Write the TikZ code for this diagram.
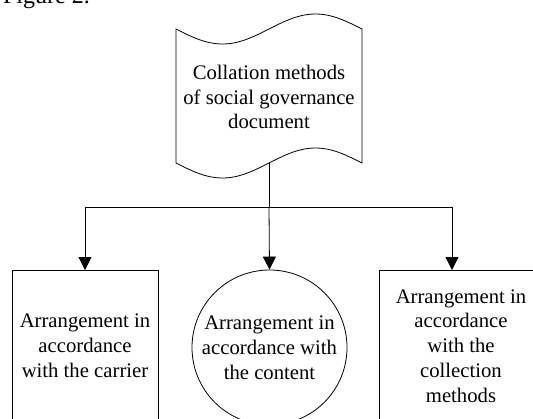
\documentclass[tikz,border=0pt]{standalone}
\usepackage{fontspec}
\setmainfont{Liberation Serif}
\usetikzlibrary{arrows.meta,calc}
\begin{document}
\begin{tikzpicture}[x=1pt,y=-1pt,
  line/.style={draw=black,line width=0.8pt},
  arr/.style={line,-{Triangle[length=13pt,width=13pt]}},
  boxst/.style={line,rectangle,inner sep=0pt},
  txt/.style={align=center,font=\fontsize{20.7pt}{24.8pt}\selectfont,inner sep=0pt}]
\useasboundingbox (0,0) rectangle (533,418);
\clip (0,0) rectangle (533,418);
% caption fragment
\node[anchor=base east,font=\fontsize{24pt}{28pt}\selectfont,inner sep=0pt] (cap) at (90,3) {Figure 2.};
% document shape
\draw[line] plot[domain=0:186,samples=60] ({176+\x},{29+15*sin(\x*1.935484)})
  -- plot[domain=186:0,samples=60] ({176+\x},{163+15*sin(\x*1.935484)}) -- cycle;
\node[txt] (doc) at (269,97) {Collation methods\\of social governance\\document};
\coordinate (docb) at (269,163);
\coordinate (j) at (269,207);
\coordinate (jl) at (85,207);
\coordinate (jr) at (452,207);
% targets
\node[boxst,minimum width=146pt,minimum height=200pt,anchor=north] (b1) at (85,270) {};
\node[txt] (t1) at (85,346) {Arrangement in\\accordance\\with the carrier};
\node[line,circle,minimum size=155pt,inner sep=0pt,txt] (c) at (269.5,347.5) {Arrangement in\\accordance with\\the content};
\node[boxst,minimum width=164pt,minimum height=200pt,anchor=north] (b3) at (461,270) {};
\node[txt] (t3) at (461,346) {Arrangement in\\accordance\\with the\\collection\\methods};
% connectors
\draw[line] (docb) -- (j);
\draw[line] (jl) -- (jr);
\draw[arr] (jl) -- (jl |- b1.north);
\draw[arr] (j) -- (c.north);
\draw[arr] (jr) -- (jr |- b3.north);
\end{tikzpicture}
\end{document}
